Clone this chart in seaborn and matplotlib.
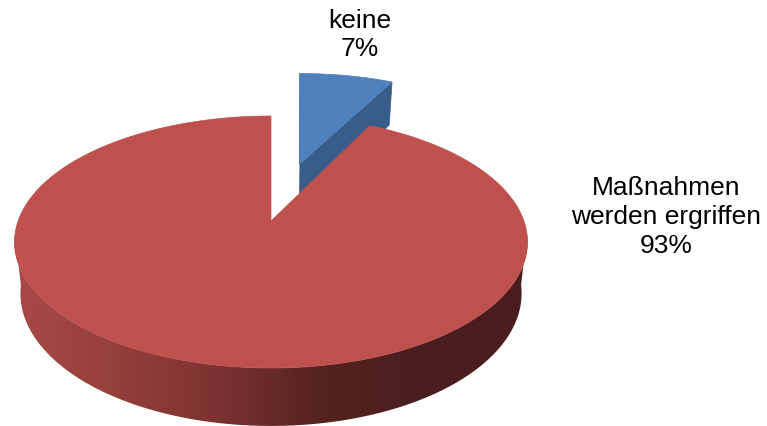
import numpy as np
import matplotlib
matplotlib.use("Agg")
import matplotlib.pyplot as plt
import seaborn as sns

labels = ["keine", "Maßnahmen\nwerden ergriffen"]
values = [7.4, 92.6]
explode = [0.52, 0.0]

sns.set_theme(style="white")
plt.rcParams["font.family"] = ["Liberation Sans", "DejaVu Sans"]

# perspective of the pie disc, in pixels
cx, cy = 271, 222
rx, ry, k = 252.9, 122.5, 0.1667


def project(u, v):
    d = 1 + k * v
    return cx + rx * u / d, cy - ry * v / d


def drop(x, y):
    # rim of the lower face, farther parts get less depth
    return cx + (x - cx) * 0.977, y + 43 + (y - 82) * 0.052


def slice_outline(start, end, off):
    mid = (start + end) / 2
    ou, ov = off * np.sin(mid), off * np.cos(mid)
    th = np.linspace(start, end, 400)
    rim_x, rim_y = project(ou + np.sin(th), ov + np.cos(th))
    ax0, ay0 = project(ou, ov)
    return ax0, ay0, rim_x, rim_y


angles = np.cumsum([0] + values) / sum(values) * 2 * np.pi

fig, ax = plt.subplots(figsize=(7.67, 4.27), dpi=100)
fig.subplots_adjust(0, 0, 1, 1)

# blue slice, pulled out, behind the red one
ax0, ay0, bx, by = slice_outline(angles[0], angles[1], explode[0])
bx = bx + 0.043 * (ay0 - by) + 1
ax0 = ax0 + 1
ax.fill([ax0, bx[-1], drop(bx[-1], by[-1])[0], drop(ax0, ay0)[0]],
        [ay0, by[-1], drop(bx[-1], by[-1])[1], drop(ax0, ay0)[1]],
        color="#385D8A", lw=0.5, zorder=1)
ax.plot([ax0, bx[0]], [ay0, by[0]], color="#1F3A5F", lw=1.0, zorder=1)
ax.fill(np.r_[ax0, bx], np.r_[ay0, by], color="#4F81BD", lw=0.5, zorder=2)

# red slice with its shaded side wall
ax0, ay0, tx, ty = slice_outline(angles[1], angles[2], explode[1])
wx, wy = drop(tx, ty)
front = ty > 235
wall = ax.fill(np.r_[tx[front], wx[front][::-1]], np.r_[ty[front], wy[front][::-1]],
               color="none", lw=0, zorder=3)[0]
shades = sns.blend_palette(["#A84A45", "#953F3B", "#7C3230", "#56231F", "#4A1E1E"], 256)
grad = np.array(shades)[np.newaxis, :, :]
img = ax.imshow(grad, extent=(14, 420, 430, 230), aspect="auto", zorder=3)
# keep the dark end going on to the right rim
img_right = ax.imshow(grad[:, -1:, :], extent=(420, 530, 430, 230), aspect="auto", zorder=3)
img.set_clip_path(wall)
img_right.set_clip_path(wall)
ax.fill(np.r_[ax0, tx], np.r_[ay0, ty], color="#BE504E", lw=0.5, zorder=4)

ax.set_xlim(0, 767)
ax.set_ylim(427, 0)
ax.axis("off")

ax.text(360, 35, f"{labels[0]}\n{round(values[0])}%", ha="center", va="center",
        fontsize=19, color="black", linespacing=1.25)
ax.text(666, 217, f"{labels[1]}\n{round(values[1])}%", ha="center", va="center",
        fontsize=19, color="black", linespacing=1.25)

fig.savefig("out.png", dpi=100)
